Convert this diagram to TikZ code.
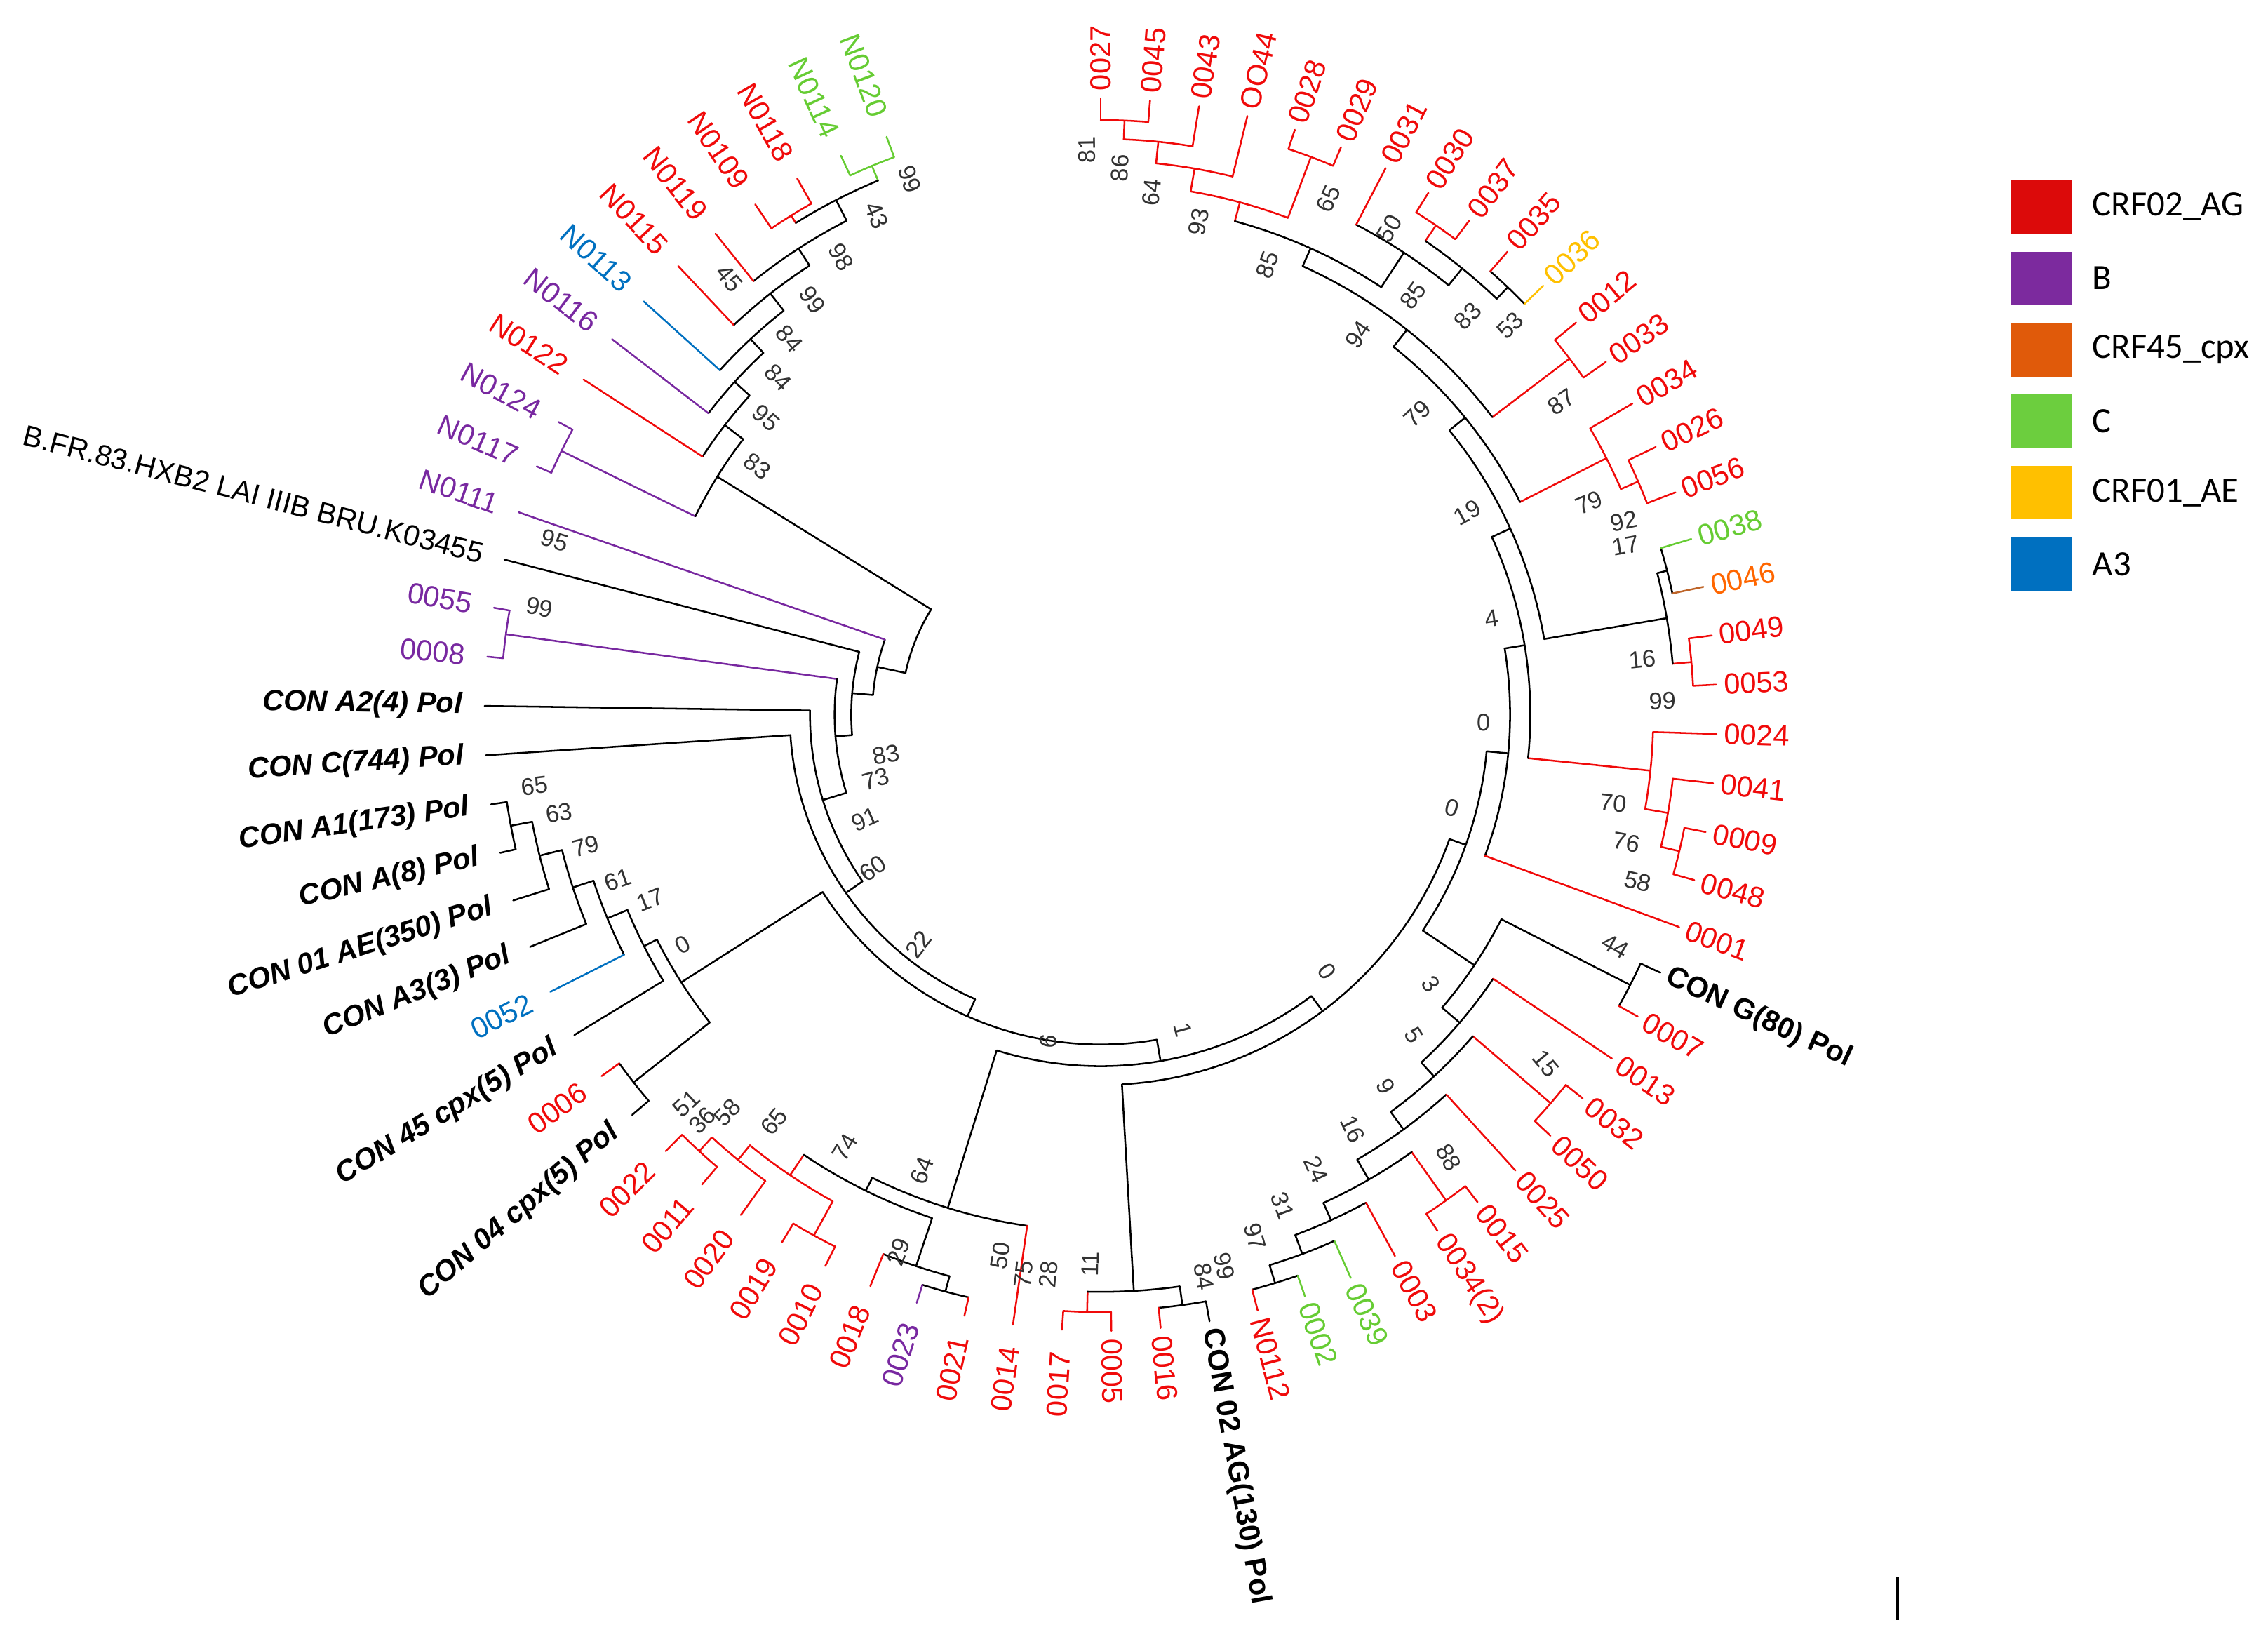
\documentclass[tikz,border=0pt]{standalone}
\usepackage{fontspec}
\setmainfont{Liberation Sans}
\newfontfamily\legfont{Carlito}
\usetikzlibrary{positioning}

\definecolor{agred}{RGB}{240,10,10}
\definecolor{bpurple}{RGB}{120,40,160}
\definecolor{corange}{RGB}{255,102,0}
\definecolor{cbrown}{RGB}{190,100,40}
\definecolor{cgreen}{RGB}{102,204,51}
\definecolor{cyellow}{RGB}{255,192,0}
\definecolor{cblue}{RGB}{0,112,192}
\definecolor{bsgray}{RGB}{50,50,50}
\definecolor{legred}{RGB}{220,10,10}
\definecolor{legpurple}{RGB}{124,42,158}
\definecolor{legorange}{RGB}{224,90,10}
\definecolor{leggreen}{RGB}{108,206,62}
\definecolor{legyellow}{RGB}{255,192,0}
\definecolor{legblue}{RGB}{0,112,192}

\newcommand{\rtip}{426}
\newcommand{\rlblR}{431}
\newcommand{\rlblL}{441}
\newcounter{bsn}

\tikzset{
  branch/.style={line width=0.7pt, line cap=round},
  tiplbl/.style={inner sep=0pt, font=\fontsize{11.5}{13}\selectfont},
  conlbl/.style={inner sep=0pt, font=\fontsize{11.5}{13}\selectfont\bfseries},
  conilbl/.style={inner sep=0pt, font=\fontsize{11.5}{13}\selectfont\bfseries\itshape},
  bslbl/.style={inner sep=0pt, text=bsgray, font=\fontsize{9.5}{11}\selectfont},
  legsq/.style={minimum width=0.84cm, minimum height=0.74cm, inner sep=0pt},
  legtxt/.style={inner sep=0pt, font=\legfont\fontsize{14}{16}\selectfont}
}

% arc of an internal node and its stem
\newcommand{\clade}[5]{%
  \pgfmathsetmacro{\cmid}{(#1+#2)/2}
  \draw[branch,#5] (#1:#3) arc[start angle=#1, end angle=#2, radius=#3];
  \draw[branch,#5] (\cmid:#4) -- (\cmid:#3);}
\newcommand{\tipR}[7]{%
  \draw[branch,#3] (#1:#2) -- (#1:\rtip);
  \node[#6, text=#4, rotate=#1, anchor=west] (#5) at (#1:\rlblR) {#7};}
\newcommand{\tipL}[7]{%
  \draw[branch,#3] (#1:#2) -- (#1:\rtip);
  \node[#6, text=#4, rotate=#1+180, anchor=east] (#5) at (#1:\rlblL) {#7};}
\newcommand{\bsv}[4]{%
  \stepcounter{bsn}
  \node[bslbl, rotate=#3] (bs\arabic{bsn}) at (#1,#2) {#4};}

\begin{document}
\begin{tikzpicture}[x=0.02cm, y=0.02cm]
\useasboundingbox (-761,-634) rectangle (807,494);

\clade{90}{85.41}{411}{398}{agred}
\clade{87.705}{80.82}{398}{383}{agred}
\clade{84.2625}{76.23}{383}{367}{agred}
\clade{71.64}{67.05}{412}{367}{agred}
\clade{80.246}{69.345}{367}{353.5}{agred}
\clade{57.87}{53.28}{410}{397}{agred}
\clade{48.69}{44.10}{408}{397}{black}
\clade{55.575}{46.395}{397}{382}{black}
\clade{62.46}{50.985}{382}{353.5}{black}
\clade{74.796}{56.7225}{353.5}{340}{black}
\clade{39.51}{34.92}{407}{340}{agred}
\clade{65.759}{37.215}{340}{325}{black}
\clade{25.74}{21.15}{405}{392}{agred}
\clade{30.33}{23.445}{392}{325}{agred}
\clade{51.487}{26.8875}{325}{311}{black}
\clade{16.56}{11.97}{404}{397}{black}
\clade{7.38}{2.79}{410}{397}{agred}
\clade{14.265}{5.085}{397}{311}{black}
\clade{39.187}{9.675}{311}{297}{black}
\clade{-10.98}{-15.57}{411}{398}{agred}
\clade{-6.39}{-13.275}{398}{382}{agred}
\clade{-1.80}{-9.8325}{382}{297}{agred}
\clade{24.431}{-5.816}{297}{283}{black}
\clade{9.3075}{-20.16}{283}{268}{black}
\clade{-24.75}{-29.34}{411}{311}{black}
\clade{-38.52}{-43.11}{411}{340}{agred}
\clade{-52.29}{-56.88}{412}{371}{agred}
\clade{-70.65}{-75.24}{411}{398}{black}
\clade{-66.06}{-72.945}{398}{384}{black}
\clade{-61.47}{-69.5025}{384}{371}{black}
\clade{-54.585}{-65.486}{371}{355}{black}
\clade{-47.70}{-60.036}{355}{340}{black}
\clade{-40.815}{-53.868}{340}{327}{black}
\clade{-33.93}{-47.342}{327}{311}{black}
\clade{-27.045}{-40.636}{311}{268}{black}
\clade{-5.426}{-33.84}{268}{256}{black}
\clade{-89.01}{-93.60}{413}{399}{agred}
\clade{-79.83}{-84.42}{412}{399}{black}
\clade{-82.125}{-91.305}{399}{256}{black}
\clade{-19.633}{-86.715}{256}{243}{black}
\clade{-102.78}{-107.37}{413}{402}{black}
\clade{-105.075}{-111.96}{402}{367}{black}
\clade{-116.55}{-121.14}{411}{384}{agred}
\clade{-130.32}{-134.91}{410}{397}{agred}
\clade{-125.73}{-132.615}{397}{384}{agred}
\clade{-118.845}{-129.1725}{384}{367}{agred}
\clade{-108.5175}{-124.009}{367}{357}{black}
\clade{-98.19}{-116.263}{357}{243}{black}
\clade{-53.174}{-107.227}{243}{228}{black}
\clade{-139.50}{-144.09}{411}{344}{black}
\clade{-167.04}{-171.63}{415}{400}{black}
\clade{-162.45}{-169.335}{400}{384}{black}
\clade{-157.86}{-165.89}{384}{369}{black}
\clade{-153.27}{-161.875}{369}{354}{black}
\clade{-148.68}{-157.57}{354}{344}{black}
\clade{-141.795}{-153.125}{344}{228}{black}
\clade{-80.2}{-147.46}{228}{215}{black}
\clade{-113.83}{-176.22}{215}{201}{black}
\clade{-145.025}{-180.81}{201}{184}{black}
\clade{-185.40}{-189.99}{415}{184}{bpurple}
\clade{-162.9175}{-187.695}{184}{172.5}{black}
\clade{-175.306}{-194.58}{172.5}{158}{black}
\clade{-184.943}{-199.17}{158}{138}{black}
\clade{-203.76}{-208.35}{415}{312}{bpurple}
\clade{-245.07}{-249.66}{411}{400}{cgreen}
\clade{-235.89}{-240.48}{406}{400}{agred}
\clade{-238.185}{-247.365}{400}{384}{black}
\clade{-231.30}{-242.775}{384}{370}{black}
\clade{-226.71}{-237.0375}{370}{355}{black}
\clade{-222.12}{-231.874}{355}{342}{black}
\clade{-217.53}{-226.997}{342}{328}{black}
\clade{-212.94}{-222.26}{328}{312}{black}
\clade{-206.055}{-217.6}{312}{138}{black}
\clade{-192.0565}{-211.83}{138}{138}{black}

\tipR{90}{411}{agred}{agred}{t0027}{tiplbl}{0027}
\tipR{85.41}{411}{agred}{agred}{t0045}{tiplbl}{0045}
\tipR{80.82}{398}{agred}{agred}{t0043}{tiplbl}{0043}
\tipR{76.23}{383}{agred}{agred}{t0044}{tiplbl}{OO44}
\tipR{71.64}{412}{agred}{agred}{t0028}{tiplbl}{0028}
\tipR{67.05}{412}{agred}{agred}{t0029}{tiplbl}{0029}
\tipR{62.46}{382}{agred}{agred}{t0031}{tiplbl}{0031}
\tipR{57.87}{410}{agred}{agred}{t0030}{tiplbl}{0030}
\tipR{53.28}{410}{agred}{agred}{t0037}{tiplbl}{0037}
\tipR{48.69}{408}{agred}{agred}{t0035}{tiplbl}{0035}
\tipR{44.10}{408}{cyellow}{cyellow}{t0036}{tiplbl}{0036}
\tipR{39.51}{407}{agred}{agred}{t0012}{tiplbl}{0012}
\tipR{34.92}{407}{agred}{agred}{t0033}{tiplbl}{0033}
\tipR{30.33}{392}{agred}{agred}{t0034}{tiplbl}{0034}
\tipR{25.74}{405}{agred}{agred}{t0026}{tiplbl}{0026}
\tipR{21.15}{405}{agred}{agred}{t0056}{tiplbl}{0056}
\tipR{16.56}{404}{cgreen}{cgreen}{t0038}{tiplbl}{0038}
\tipR{11.97}{404}{cbrown}{corange}{t0046}{tiplbl}{0046}
\tipR{7.38}{410}{agred}{agred}{t0049}{tiplbl}{0049}
\tipR{2.79}{410}{agred}{agred}{t0053}{tiplbl}{0053}
\tipR{-1.80}{382}{agred}{agred}{t0024}{tiplbl}{0024}
\tipR{-6.39}{398}{agred}{agred}{t0041}{tiplbl}{0041}
\tipR{-10.98}{411}{agred}{agred}{t0009}{tiplbl}{0009}
\tipR{-15.57}{411}{agred}{agred}{t0048}{tiplbl}{0048}
\tipR{-20.16}{283}{agred}{agred}{t0001}{tiplbl}{0001}
\tipR{-24.75}{411}{black}{black}{tconG}{conlbl}{CON G(80) Pol}
\tipR{-29.34}{411}{agred}{agred}{t0007}{tiplbl}{0007}
\tipR{-33.93}{327}{agred}{agred}{t0013}{tiplbl}{0013}
\tipR{-38.52}{411}{agred}{agred}{t0032}{tiplbl}{0032}
\tipR{-43.11}{411}{agred}{agred}{t0050}{tiplbl}{0050}
\tipR{-47.70}{355}{agred}{agred}{t0025}{tiplbl}{0025}
\tipR{-52.29}{412}{agred}{agred}{t0015}{tiplbl}{0015}
\tipR{-56.88}{412}{agred}{agred}{t0034b}{tiplbl}{0034(2)}
\tipR{-61.47}{384}{agred}{agred}{t0003}{tiplbl}{0003}
\tipR{-66.06}{398}{cgreen}{cgreen}{t0039}{tiplbl}{0039}
\tipR{-70.65}{411}{cgreen}{cgreen}{t0002}{tiplbl}{0002}
\tipR{-75.24}{411}{agred}{agred}{tN0112}{tiplbl}{N0112}
\tipR{-79.83}{412}{black}{black}{tcon02}{conlbl}{CON 02 AG(130) Pol}
\tipR{-84.42}{412}{agred}{agred}{t0016}{tiplbl}{0016}
\tipR{-89.01}{413}{agred}{agred}{t0005}{tiplbl}{0005}
\tipL{-93.60}{413}{agred}{agred}{t0017}{tiplbl}{0017}
\tipL{-98.19}{357}{agred}{agred}{t0014}{tiplbl}{0014}
\tipL{-102.78}{413}{agred}{agred}{t0021}{tiplbl}{0021}
\tipL{-107.37}{413}{bpurple}{bpurple}{t0023}{tiplbl}{0023}
\tipL{-111.96}{402}{agred}{agred}{t0018}{tiplbl}{0018}
\tipL{-116.55}{411}{agred}{agred}{t0010}{tiplbl}{0010}
\tipL{-121.14}{411}{agred}{agred}{t0019}{tiplbl}{0019}
\tipL{-125.73}{397}{agred}{agred}{t0020}{tiplbl}{0020}
\tipL{-130.32}{410}{agred}{agred}{t0011}{tiplbl}{0011}
\tipL{-134.91}{410}{agred}{agred}{t0022}{tiplbl}{0022}
\tipL{-139.50}{411}{black}{black}{tcon04}{conilbl}{CON 04 cpx(5) Pol}
\tipL{-144.09}{411}{agred}{agred}{t0006}{tiplbl}{0006}
\tipL{-148.68}{354}{black}{black}{tcon45}{conilbl}{CON 45 cpx(5) Pol}
\tipL{-153.27}{369}{cblue}{cblue}{t0052}{tiplbl}{0052}
\tipL{-157.86}{384}{black}{black}{tconA3}{conilbl}{CON A3(3) Pol}
\tipL{-162.45}{400}{black}{black}{tcon01}{conilbl}{CON 01 AE(350) Pol}
\tipL{-167.04}{415}{black}{black}{tconA8}{conilbl}{CON A(8) Pol}
\tipL{-171.63}{415}{black}{black}{tconA1}{conilbl}{CON A1(173) Pol}
\tipL{-176.22}{215}{black}{black}{tconC}{conilbl}{CON C(744) Pol}
\tipL{-180.81}{201}{black}{black}{tconA2}{conilbl}{CON A2(4) Pol}
\tipL{-185.40}{415}{bpurple}{bpurple}{t0008}{tiplbl}{0008}
\tipL{-189.99}{415}{bpurple}{bpurple}{t0055}{tiplbl}{0055}
\tipL{-194.58}{172.5}{black}{black}{thxb2}{tiplbl}{B.FR.83.HXB2 LAI IIIB BRU.K03455}
\tipL{-199.17}{158}{bpurple}{bpurple}{tN0111}{tiplbl}{N0111}
\tipL{-203.76}{415}{bpurple}{bpurple}{tN0117}{tiplbl}{N0117}
\tipL{-208.35}{415}{bpurple}{bpurple}{tN0124}{tiplbl}{N0124}
\tipL{-212.94}{328}{agred}{agred}{tN0122}{tiplbl}{N0122}
\tipL{-217.53}{342}{bpurple}{bpurple}{tN0116}{tiplbl}{N0116}
\tipL{-222.12}{355}{cblue}{cblue}{tN0113}{tiplbl}{N0113}
\tipL{-226.71}{370}{agred}{agred}{tN0115}{tiplbl}{N0115}
\tipL{-231.30}{384}{agred}{agred}{tN0119}{tiplbl}{N0119}
\tipL{-235.89}{406}{agred}{agred}{tN0109}{tiplbl}{N0109}
\tipL{-240.48}{406}{agred}{agred}{tN0118}{tiplbl}{N0118}
\tipL{-245.07}{411}{cgreen}{cgreen}{tN0114}{tiplbl}{N0114}
\tipL{-249.66}{411}{cgreen}{cgreen}{tN0120}{tiplbl}{N0120}

\bsv{-9.5}{390.4}{91}{81}
\bsv{13.4}{377.8}{88}{86}
\bsv{35.1}{361}{84}{64}
\bsv{67.6}{340.6}{79}{93}
\bsv{157.4}{356.4}{66}{65}
\bsv{115.2}{310.9}{70}{85}
\bsv{199.6}{336}{59}{50}
\bsv{215.9}{289.6}{53}{85}
\bsv{253.8}{275.7}{47}{83}
\bsv{283}{269.2}{44}{53}
\bsv{178}{262.7}{56}{94}
\bsv{219.1}{207.9}{43}{79}
\bsv{318.3}{216.3}{34}{87}
\bsv{253.3}{139.7}{29}{19}
\bsv{337.6}{146.5}{23}{79}
\bsv{361.6}{133.8}{12}{92}
\bsv{363.1}{116.8}{10}{17}
\bsv{270.5}{66.5}{8}{4}
\bsv{374.4}{38}{6}{16}
\bsv{388.3}{9.5}{1}{99}
\bsv{264.6}{-5.3}{-1}{0}
\bsv{354.3}{-61}{-6}{70}
\bsv{242.9}{-64.7}{-15}{0}
\bsv{363.5}{-88.2}{-10}{76}
\bsv{371.3}{-115.4}{-14}{58}
\bsv{355.8}{-160}{-30}{44}
\bsv{228.4}{-186.4}{-55}{3}
\bsv{156.3}{-177.3}{-55}{0}
\bsv{216.3}{-221.7}{-58}{5}
\bsv{307.8}{-241.2}{-50}{15}
\bsv{197.2}{-257}{-62}{9}
\bsv{174.1}{-286.7}{-64}{16}
\bsv{240.5}{-306.2}{-60}{88}
\bsv{149}{-314.5}{-66}{24}
\bsv{125.9}{-339.6}{-70}{31}
\bsv{106.8}{-360.9}{-74}{97}
\bsv{85.4}{-381.2}{-77}{99}
\bsv{71.3}{-388.3}{-80}{84}
\bsv{-7.1}{-379.8}{89}{11}
\bsv{56.8}{-217.6}{-75}{1}
\bsv{-36.4}{-226}{81}{6}
\bsv{-69.4}{-374}{80}{50}
\bsv{-53.3}{-386.9}{82}{75}
\bsv{-36}{-386.9}{85}{28}
\bsv{-123.7}{-315.3}{69}{64}
\bsv{-177}{-299}{59}{74}
\bsv{-139.8}{-371.2}{69}{29}
\bsv{-225.8}{-281.3}{51}{65}
\bsv{-258.3}{-275.1}{47}{58}
\bsv{-275.6}{-280.5}{46}{36}
\bsv{-286.5}{-268.9}{43}{51}
\bsv{-125.9}{-159}{52}{22}
\bsv{-157.5}{-106.4}{34}{60}
\bsv{-163}{-72.4}{24}{91}
\bsv{-155.6}{-44.6}{16}{73}
\bsv{-148.2}{-27.6}{11}{83}
\bsv{-289.2}{-159}{29}{0}
\bsv{-311.5}{-128.1}{22}{17}
\bsv{-333.7}{-114.2}{19}{61}
\bsv{-356}{-91}{14}{79}
\bsv{-374.5}{-67.8}{10}{63}
\bsv{-391.2}{-49.2}{7}{65}
\bsv{-388}{74}{-11}{99}
\bsv{-377.5}{120.4}{-18}{95}
\bsv{-237.4}{171.7}{-36}{83}
\bsv{-231.4}{205.1}{-42}{95}
\bsv{-222.9}{232.9}{-46}{84}
\bsv{-215.3}{259.8}{-50}{84}
\bsv{-199.1}{286.7}{-55}{99}
\bsv{-179.5}{316.4}{-60}{98}
\bsv{-256.9}{301.6}{-50}{45}
\bsv{-154.9}{345.2}{-66}{43}
\bsv{-131.9}{370.3}{-70}{99}

\node[legsq, fill=legred] (sqAG) at (650,351) {};
\node[legsq, fill=legpurple] (sqB) at (650,301.6) {};
\node[legsq, fill=legorange] (sqCpx) at (650,252.2) {};
\node[legsq, fill=leggreen] (sqC) at (650,202.8) {};
\node[legsq, fill=legyellow] (sqAE) at (650,153.4) {};
\node[legsq, fill=legblue] (sqA) at (650,104) {};
\node[legtxt, right=0.28cm of sqAG] (lgAG) {CRF02\_AG};
\node[legtxt, right=0.28cm of sqB] (lgB) {B};
\node[legtxt, right=0.28cm of sqCpx] (lgCpx) {CRF45\_cpx};
\node[legtxt, right=0.28cm of sqC] (lgC) {C};
\node[legtxt, right=0.28cm of sqAE] (lgAE) {CRF01\_AE};
\node[legtxt, right=0.28cm of sqA] (lgA) {A3};

\coordinate (sbTop) at (551,-596);
\coordinate (sbBot) at (551,-626);
\draw[line width=1pt] (sbTop) -- (sbBot);
\end{tikzpicture}
\end{document}
